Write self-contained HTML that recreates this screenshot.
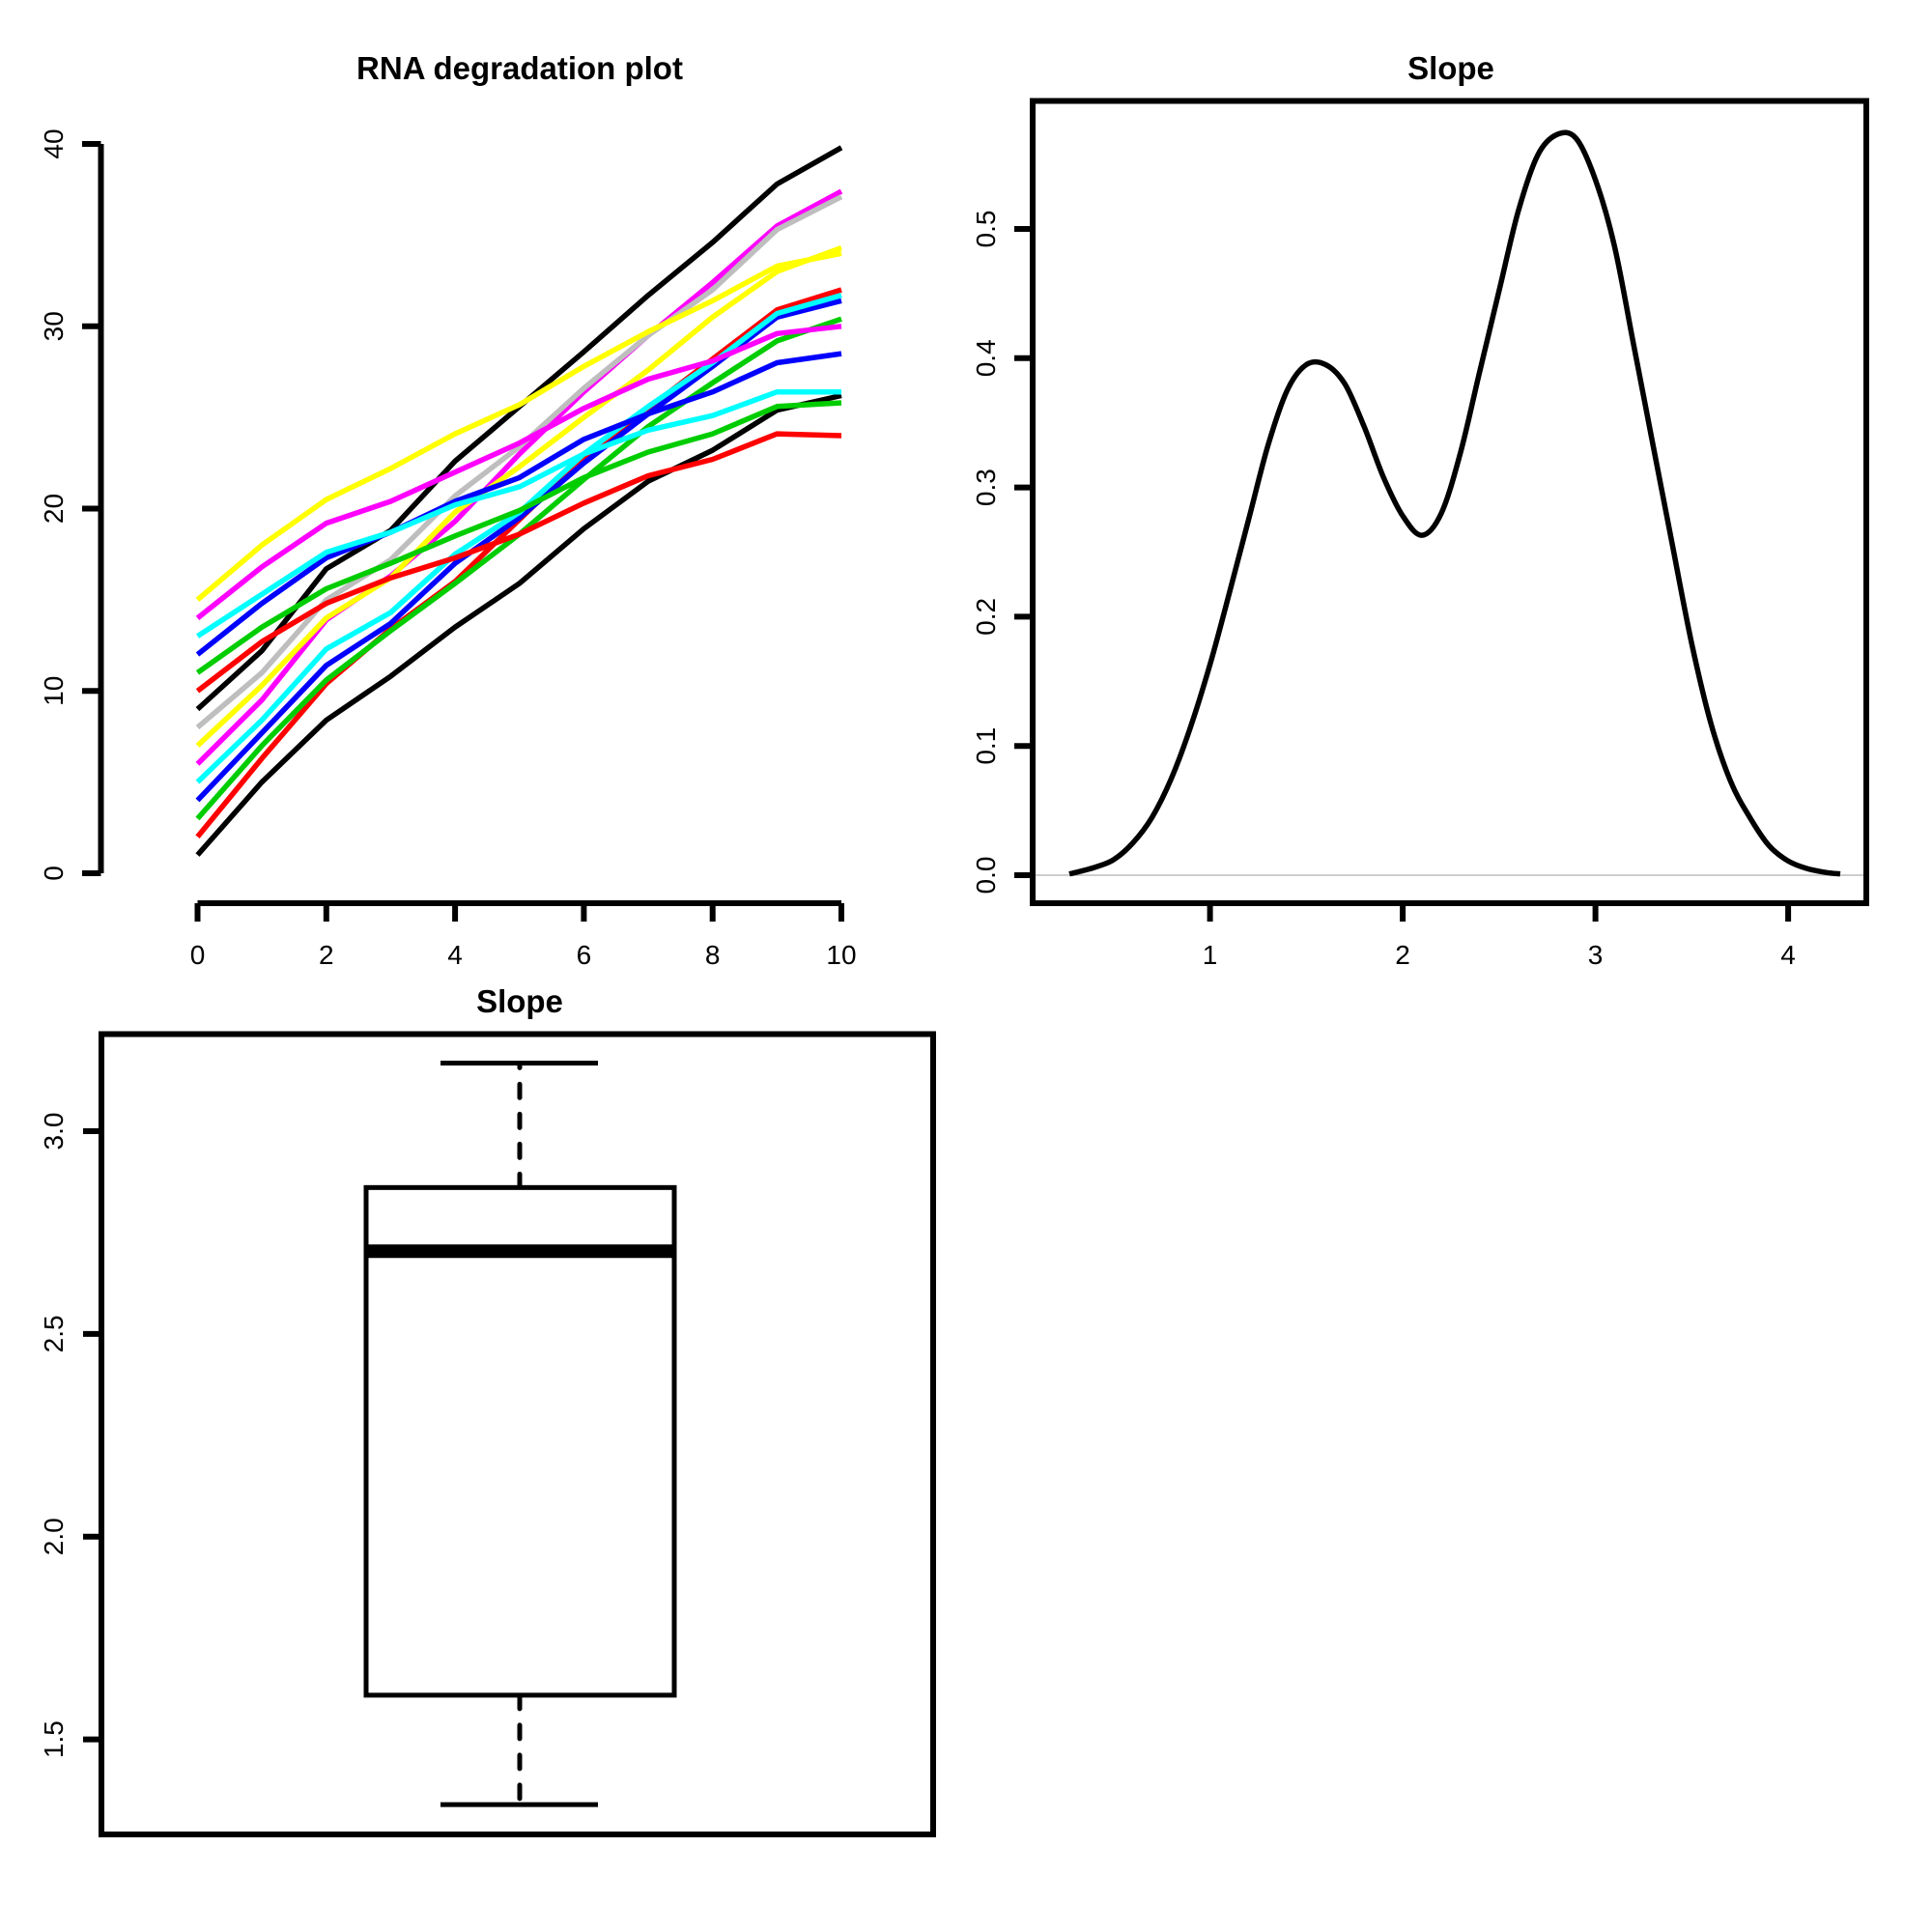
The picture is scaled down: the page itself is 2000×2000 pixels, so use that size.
<!DOCTYPE html>
<html><head><meta charset="utf-8"><style>
html,body{margin:0;padding:0;background:#fff;}
svg{display:block;font-family:"Liberation Sans",Arial,sans-serif;}
</style></head>
<body>
<svg id="chart" width="2000" height="2000" viewBox="0 0 2000 2000" xmlns="http://www.w3.org/2000/svg">
<rect width="2000" height="2000" fill="#fff"/>
<g id="p1"></g>
<g id="p2"></g>
<g id="p3"></g>
</svg>
<script>
// ---- Panel 1 data ----
const degX = [0,1,2,3,4,5,6,7,8,9,10];
const degColors = ["#000000","#ff0000","#00cd00","#0000ff","#00ffff","#ff00ff","#ffff00","#bebebe","#000000","#ff0000","#00cd00","#0000ff","#00ffff","#ff00ff","#ffff00"];
const s1 = [1,5.0,8.4,10.8,13.5,15.9,18.9,21.5,23.2,25.4,26.2];
const s2 = [2,6.3,10.4,13.4,16.0,19.4,22.8,25.5,28.2,30.9,32.0];
const s3 = [3,7.0,10.6,13.3,15.9,18.6,21.6,24.5,26.9,29.2,30.4];
const s4 = [4,7.7,11.4,13.7,17.0,19.5,22.5,25.2,27.8,30.5,31.4];
const s5 = [5,8.4,12.3,14.3,17.5,19.8,23.0,25.6,28.0,30.7,31.7];
const s6 = [6,9.5,13.9,16.3,19.3,23.0,26.4,29.5,32.4,35.5,37.4];
const s7 = [7,10.3,14.0,16.2,19.8,22.3,25.0,27.6,30.5,33.0,34.3];
const s8 = [8,11.0,15.0,17.2,20.7,23.4,26.6,29.5,32.0,35.3,37.1];
const s9 = [9,12.2,16.7,18.8,22.6,25.6,28.6,31.7,34.6,37.8,39.8];
const s10 = [10,12.7,14.8,16.2,17.3,18.6,20.3,21.8,22.7,24.1,24.0];
const s11 = [11,13.5,15.6,17.0,18.5,19.9,21.7,23.1,24.1,25.6,25.8];
const s12 = [12,14.8,17.3,18.7,20.4,21.7,23.8,25.2,26.4,28.0,28.5];
const s13 = [13,15.3,17.6,18.7,20.2,21.2,23.0,24.3,25.1,26.4,26.4];
const s14 = [14,16.8,19.2,20.4,22.0,23.6,25.5,27.1,28.1,29.6,30.0];
const s15 = [15,18.0,20.5,22.2,24.1,25.7,27.8,29.7,31.4,33.3,34.0];
const degSeries = [s1,s2,s3,s4,s5,s6,s7,s8,s9,s10,s11,s12,s13,s14,s15];
const degYTicks = [0,10,20,30,40];
const degXTicks = [0,2,4,6,8,10];
// ---- Panel 2 data ----
const densX = [0.27,0.3,0.4,0.5,0.6,0.7,0.8,0.9,1.0,1.1,1.2,1.3,1.4,1.5,1.6,1.7,1.8,1.9,2.0,2.1,2.2,2.3,2.4,2.5,2.6,2.7,2.8,2.9,3.0,3.1,3.2,3.3,3.4,3.5,3.6,3.7,3.8,3.9,4.0,4.1,4.2,4.27];
const densY = [0.001,0.002,0.006,0.012,0.025,0.045,0.075,0.115,0.163,0.218,0.275,0.332,0.375,0.395,0.395,0.38,0.347,0.308,0.278,0.263,0.28,0.327,0.39,0.452,0.514,0.557,0.573,0.57,0.538,0.486,0.409,0.332,0.255,0.179,0.117,0.073,0.045,0.023,0.011,0.005,0.002,0.001];
const densYTicks = [0,0.1,0.2,0.3,0.4,0.5];
const densYLabels = ["0.0","0.1","0.2","0.3","0.4","0.5"];
const densXTicks = [1,2,3,4];
// ---- Panel 3 data ----
const boxStats = [1.339,1.609,2.704,2.861,3.168]; // lower whisker, q1, median, q3, upper whisker
const boxYTicks = [1.5,2.0,2.5,3.0];
const boxYLabels = ["1.5","2.0","2.5","3.0"];

const NS="http://www.w3.org/2000/svg";
function mk(parent,tag,attrs){const e=document.createElementNS(NS,tag);for(const k in attrs)e.setAttribute(k,attrs[k]);parent.appendChild(e);return e;}
function txt(parent,x,y,s,size,opts){const t=mk(parent,'text',{x:x,y:y,'font-size':size,'text-anchor':'middle',fill:'#000'});if(opts&&opts.bold)t.setAttribute('font-weight','bold');if(opts&&opts.rot)t.setAttribute('transform','rotate(-90 '+x+' '+y+')');t.textContent=s;return t;}

// ===== Panel 1 =====
(function(){
const g=document.getElementById('p1');
const sx=v=>204.5+(v-0)*(871-204.5)/10;
const sy=v=>904+(v-0)*(149-904)/40;
let t=txt(g,538,82,'RNA degradation plot',33,{bold:1});


let ya=mk(g,'line',{x1:104.5,y1:sy(0),x2:104.5,y2:sy(40),stroke:'#000','stroke-width':6});


degYTicks.forEach(v=>{
 let tk=mk(g,'line',{x1:85,y1:sy(v),x2:104.5,y2:sy(v),stroke:'#000','stroke-width':6});
 
 
 let l=txt(g,65,sy(v),String(v),28,{rot:1});
 
 
});
let xa=mk(g,'line',{x1:sx(0),y1:935,x2:sx(10),y2:935,stroke:'#000','stroke-width':6});


degXTicks.forEach(v=>{
 let tk=mk(g,'line',{x1:sx(v),y1:935,x2:sx(v),y2:954,stroke:'#000','stroke-width':6});
 
 
 let l=txt(g,sx(v),998,String(v),28);
 
 
});
degSeries.forEach((s,i)=>{
 const pts=s.map((v,j)=>sx(degX[j]).toFixed(1)+','+sy(v).toFixed(1)).join(' ');
 let p=mk(g,'polyline',{points:pts,fill:'none',stroke:degColors[i],'stroke-width':5.5,'stroke-linejoin':'round'});
 
 
});
})();

// ===== Panel 2 =====
(function(){
const g=document.getElementById('p2');
const sx=v=>1252.6+(v-1)*199.5;
const sy=v=>906+v*(237-906)/0.5;
let t=txt(g,1502,82,'Slope',33,{bold:1});


let base=mk(g,'line',{x1:1069,y1:sy(0),x2:1932,y2:sy(0),stroke:'#bebebe','stroke-width':1.5});


const P=densX.map((x,i)=>[sx(x),sy(densY[i])]);
let d='M'+P[0][0].toFixed(1)+','+P[0][1].toFixed(1);
for(let i=0;i<P.length-1;i++){
 const p0=P[Math.max(i-1,0)],p1=P[i],p2=P[i+1],p3=P[Math.min(i+2,P.length-1)];
 const c1=[p1[0]+(p2[0]-p0[0])/6,p1[1]+(p2[1]-p0[1])/6];
 const c2=[p2[0]-(p3[0]-p1[0])/6,p2[1]-(p3[1]-p1[1])/6];
 d+=' C'+c1[0].toFixed(1)+','+c1[1].toFixed(1)+' '+c2[0].toFixed(1)+','+c2[1].toFixed(1)+' '+p2[0].toFixed(1)+','+p2[1].toFixed(1);
}
let c=mk(g,'path',{d:d,fill:'none',stroke:'#000','stroke-width':5.5,'stroke-linejoin':'round'});


let fr=mk(g,'rect',{x:1069,y:104.5,width:863,height:830.5,fill:'none',stroke:'#000','stroke-width':6});


densYTicks.forEach((v,i)=>{
 let tk=mk(g,'line',{x1:1050,y1:sy(v),x2:1069,y2:sy(v),stroke:'#000','stroke-width':6});
 
 
 let l=txt(g,1030,sy(v),densYLabels[i],28,{rot:1});
 
 
});
densXTicks.forEach(v=>{
 let tk=mk(g,'line',{x1:sx(v),y1:935,x2:sx(v),y2:954,stroke:'#000','stroke-width':6});
 
 
 let l=txt(g,sx(v),998,String(v),28);
 
 
});
})();

// ===== Panel 3 =====
(function(){
const g=document.getElementById('p3');
const sy=v=>1171+(v-3.0)*(1800.6-1171)/(-1.5);
const cx=538, bl=379, br=698, cl=456, cr=619;
let t=txt(g,538,1048,'Slope',33,{bold:1});


let w1=mk(g,'line',{x1:cx,y1:sy(boxStats[3]),x2:cx,y2:sy(boxStats[4]),stroke:'#000','stroke-width':5,'stroke-dasharray':'14 17','stroke-linecap':'round'});


let w2=mk(g,'line',{x1:cx,y1:sy(boxStats[1]),x2:cx,y2:sy(boxStats[0]),stroke:'#000','stroke-width':5,'stroke-dasharray':'14 17','stroke-linecap':'round'});


let c1=mk(g,'line',{x1:cl,y1:sy(boxStats[4]),x2:cr,y2:sy(boxStats[4]),stroke:'#000','stroke-width':5});


let c2=mk(g,'line',{x1:cl,y1:sy(boxStats[0]),x2:cr,y2:sy(boxStats[0]),stroke:'#000','stroke-width':5});


let b=mk(g,'rect',{x:bl,y:sy(boxStats[3]),width:br-bl,height:sy(boxStats[1])-sy(boxStats[3]),fill:'#fff',stroke:'#000','stroke-width':5});


let m=mk(g,'line',{x1:bl,y1:sy(boxStats[2]),x2:br,y2:sy(boxStats[2]),stroke:'#000','stroke-width':14});


let fr=mk(g,'rect',{x:105,y:1070.5,width:861,height:828.5,fill:'none',stroke:'#000','stroke-width':6});


boxYTicks.forEach((v,i)=>{
 let tk=mk(g,'line',{x1:86,y1:sy(v),x2:105,y2:sy(v),stroke:'#000','stroke-width':6});
 
 
 let l=txt(g,65,sy(v),boxYLabels[i],28,{rot:1});
 
 
});
})();
</script>
</body></html>
